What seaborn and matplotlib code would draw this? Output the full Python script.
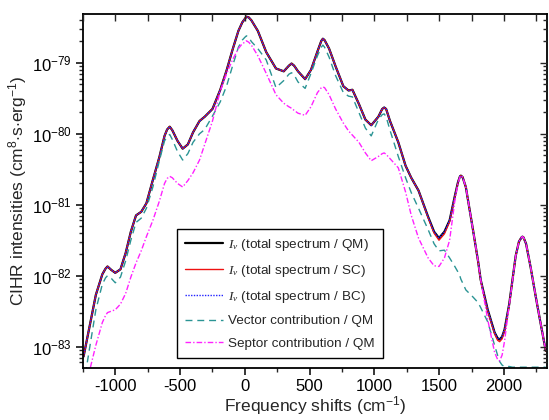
import numpy as np
import matplotlib
matplotlib.use("Agg")
import matplotlib.pyplot as plt
import seaborn as sns
from matplotlib.ticker import MultipleLocator, LogLocator, FuncFormatter, NullFormatter

# frequency shift grid (cm^-1)
shift = [-1245, -1200, -1150, -1100, -1075, -1060, -1030, -1000, -960, -920, -880,
         -840, -800, -760, -710, -660, -620, -600, -580, -560, -520, -480,
         -440, -400, -350, -310, -250, -190, -140, -96, -50, -20, 0,
         12, 30, 50, 100, 165, 240, 300, 340, 360, 380, 410, 465, 510,
         560, 590, 602, 615, 650, 700, 760, 800, 830, 880, 930, 975,
         1030, 1060, 1075, 1090, 1120, 1184, 1240, 1284, 1340, 1414, 1460, 1498,
         1540, 1580, 1620, 1645, 1660, 1667, 1680, 1705, 1760, 1800, 1820, 1874,
         1927, 1950, 1966, 1985, 2004, 2040, 2065, 2090, 2115, 2135, 2142, 2150, 2170, 2205,
         2250, 2280, 2322]

# log10 of intensities
total_qm = [-83.14, -82.73, -82.27, -81.98, -81.90, -81.87, -81.92, -81.96, -81.91, -81.68, -81.38,
            -81.15, -81.10, -80.98, -80.65, -80.33, -80.03, -79.94, -79.90, -79.95, -80.10, -80.21,
            -80.15, -79.98, -79.82, -79.76, -79.65, -79.38, -79.10, -78.82, -78.55, -78.43, -78.38,
            -78.35, -78.36, -78.40, -78.55, -78.85, -79.08, -79.12, -79.04, -79.01, -79.04, -79.12, -79.23, -79.10,
            -78.84, -78.69, -78.66, -78.68, -78.80, -79.05, -79.33, -79.39, -79.38, -79.58, -79.80, -79.88,
            -79.76, -79.65, -79.63, -79.65, -79.82, -80.12, -80.45, -80.62, -80.80, -81.17, -81.38, -81.47,
            -81.38, -81.22, -80.88, -80.68, -80.60, -80.59, -80.61, -80.75, -81.35, -81.80, -82.06, -82.48,
            -82.80, -82.88, -82.90, -82.86, -82.76, -82.40, -82.06, -81.72, -81.52, -81.46, -81.45, -81.46, -81.55, -81.88,
            -82.35, -82.65, -83.06]

total_sc = [-83.14, -82.73, -82.27, -81.98, -81.90, -81.87, -81.92, -81.96, -81.91, -81.68, -81.38,
            -81.15, -81.10, -80.98, -80.65, -80.33, -80.03, -79.94, -79.90, -79.95, -80.10, -80.21,
            -80.15, -79.98, -79.82, -79.76, -79.65, -79.38, -79.10, -78.82, -78.55, -78.43, -78.38,
            -78.35, -78.36, -78.40, -78.55, -78.85, -79.08, -79.12, -79.04, -79.01, -79.04, -79.12, -79.23, -79.10,
            -78.84, -78.69, -78.66, -78.68, -78.80, -79.05, -79.33, -79.39, -79.38, -79.58, -79.80, -79.88,
            -79.76, -79.65, -79.63, -79.65, -79.82, -80.12, -80.45, -80.62, -80.80, -81.18, -81.40, -81.50,
            -81.41, -81.24, -80.89, -80.68, -80.60, -80.59, -80.61, -80.75, -81.35, -81.81, -82.07, -82.50,
            -82.82, -82.91, -82.93, -82.89, -82.78, -82.41, -82.06, -81.72, -81.52, -81.46, -81.45, -81.46, -81.55, -81.88,
            -82.35, -82.65, -83.06]

total_bc = list(total_qm)

vector_qm = [-83.55, -83.04, -82.48, -82.12, -82.03, -82.00, -82.04, -82.10, -82.02, -81.79, -81.50,
             -81.25, -81.19, -81.05, -80.75, -80.38, -80.10, -80.04, -80.01, -80.08, -80.25, -80.37,
             -80.28, -80.12, -80.00, -79.94, -79.75, -79.55, -79.32, -79.05, -78.78, -78.68, -78.64,
             -78.62, -78.64, -78.70, -78.80, -78.96, -79.35, -79.25, -79.16, -79.14, -79.17, -79.27, -79.36, -79.15,
             -78.90, -78.78, -78.75, -78.78, -78.92, -79.18, -79.42, -79.47, -79.48, -79.70, -79.92, -80.03,
             -79.80, -79.73, -79.72, -79.76, -79.95, -80.32, -80.62, -80.83, -81.05, -81.35, -81.55, -81.65,
             -81.64, -81.75, -81.87, -81.95, -82.01, -82.05, -82.10, -82.20, -82.30, -82.38, -82.45, -82.65,
             -82.98, -83.12, -83.21, -83.26, -83.28, -83.28, -83.29, -83.29, -83.29, -83.29, -83.29, -83.29, -83.29, -83.29,
             -83.29, -83.29, -83.29]

septor_qm = [-83.75, -83.35, -82.98, -82.66, -82.56, -82.52, -82.50, -82.48, -82.40, -82.25, -82.02,
             -81.82, -81.65, -81.45, -81.22, -80.95, -80.70, -80.63, -80.60, -80.62, -80.70, -80.75,
             -80.66, -80.55, -80.37, -80.15, -79.82, -79.40, -79.15, -78.96, -78.80, -78.73, -78.71,
             -78.69, -78.71, -78.75, -78.90, -79.15, -79.45, -79.57, -79.62, -79.64, -79.67, -79.71, -79.74, -79.62,
             -79.42, -79.35, -79.34, -79.35, -79.45, -79.65, -79.85, -79.96, -80.02, -80.12, -80.27, -80.38,
             -80.32, -80.28, -80.27, -80.29, -80.35, -80.48, -80.82, -81.15, -81.47, -81.75, -81.86, -81.87,
             -81.75, -81.50, -80.95, -80.70, -80.61, -80.59, -80.61, -80.75, -81.35, -81.80, -82.06, -82.62,
             -83.08, -83.18, -83.20, -83.12, -82.92, -82.42, -82.08, -81.72, -81.52, -81.46, -81.45, -81.46, -81.55, -81.88,
             -82.35, -82.65, -83.06]

labels = [r"$I_\nu$ (total spectrum / QM)",
          r"$I_\nu$ (total spectrum / SC)",
          r"$I_\nu$ (total spectrum / BC)",
          "Vector contribution / QM",
          "Septor contribution / QM"]

sns.set_style("ticks")
plt.rcParams["font.family"] = ["Liberation Sans", "DejaVu Sans"]
plt.rcParams["mathtext.fontset"] = "custom"
plt.rcParams["mathtext.it"] = "Liberation Serif:italic"
plt.rcParams["mathtext.rm"] = "Liberation Serif"
plt.rcParams["axes.unicode_minus"] = False

fig, ax = plt.subplots(figsize=(5.49, 4.2), dpi=100)
fig.subplots_adjust(left=0.151, right=0.996, bottom=0.124, top=0.967)

x = np.array(shift)
series = [
    (total_qm, "black", 1.6, "-"),
    (total_sc, "#ee1111", 1.0, "-"),
    (total_bc, "#2222ff", 1.0, (0, (1, 1))),
    (vector_qm, "#2a9494", 1.0, (0, (5, 3.5))),
    (septor_qm, "#ff22ff", 1.0, (0, (4, 1.5, 1, 1.5))),
]
for (vals, col, lw, ls), lab in zip(series, labels):
    sns.lineplot(x=x, y=10.0 ** np.array(vals), ax=ax, color=col, lw=lw,
                 linestyle=ls, label=lab, sort=False)

ax.set_yscale("log")
ax.set_xlim(-1250, 2330)
ax.set_ylim(10 ** -83.3, 10 ** -78.31)

ax.xaxis.set_major_locator(MultipleLocator(500))
ax.xaxis.set_minor_locator(MultipleLocator(250))
ax.yaxis.set_major_locator(LogLocator(base=10, numticks=20))
ax.yaxis.set_minor_locator(LogLocator(base=10, subs=np.arange(2, 10), numticks=20))
ax.yaxis.set_major_formatter(FuncFormatter(
    lambda v, p: r"$\mathregular{10^{%d}}$" % int(round(np.log10(v)))))
ax.yaxis.set_minor_formatter(NullFormatter())

ax.tick_params(axis="both", which="major", direction="out", length=5, width=1.1,
               labelsize=12, color="black", labelcolor="black", pad=3)
ax.tick_params(axis="both", which="minor", direction="out", length=3, width=1.0)

for s in ax.spines.values():
    s.set_linewidth(1.3)
    s.set_color("black")

# mirrored axes with inward ticks
axt = ax.twiny()
axt.set_xlim(ax.get_xlim())
axt.xaxis.set_major_locator(MultipleLocator(500))
axt.xaxis.set_minor_locator(MultipleLocator(250))
axt.tick_params(axis="x", which="both", direction="in", length=5, width=1.0, labeltop=False)
axt.tick_params(axis="y", which="both", left=False, labelleft=False)
axr = ax.twinx()
axr.set_yscale("log")
axr.set_ylim(ax.get_ylim())
axr.yaxis.set_major_locator(LogLocator(base=10, numticks=20))
axr.yaxis.set_minor_locator(LogLocator(base=10, subs=np.arange(2, 10), numticks=20))
axr.yaxis.set_minor_formatter(NullFormatter())
axr.tick_params(axis="y", which="major", direction="in", length=5, width=1.0, labelright=False)
axr.tick_params(axis="y", which="minor", direction="in", length=3, width=1.0, labelright=False)
axr.tick_params(axis="x", which="both", bottom=False, labelbottom=False)
for a in (axt, axr):
    for s in a.spines.values():
        s.set_visible(False)
    a.xaxis.label.set_visible(False)
    a.yaxis.label.set_visible(False)

ax.set_xlabel(r"Frequency shifts (cm$\mathregular{^{-1}}$)", fontsize=12.5, labelpad=0)
ax.set_ylabel(r"CIHR intensities (cm$\mathregular{^{8}}$$\cdot$s$\cdot$erg$\mathregular{^{-1}}$)",
              fontsize=12.5, labelpad=2)

leg = ax.legend(loc="lower left", bbox_to_anchor=(0.203, 0.028), borderaxespad=0,
                fontsize=9.7, frameon=True, fancybox=False, handlelength=2.8,
                handletextpad=0.4, labelspacing=0.75, borderpad=0.6)
leg.get_frame().set_edgecolor("black")
leg.get_frame().set_linewidth(1.0)
leg.get_frame().set_alpha(1)

fig.savefig("out.png", dpi=100)
